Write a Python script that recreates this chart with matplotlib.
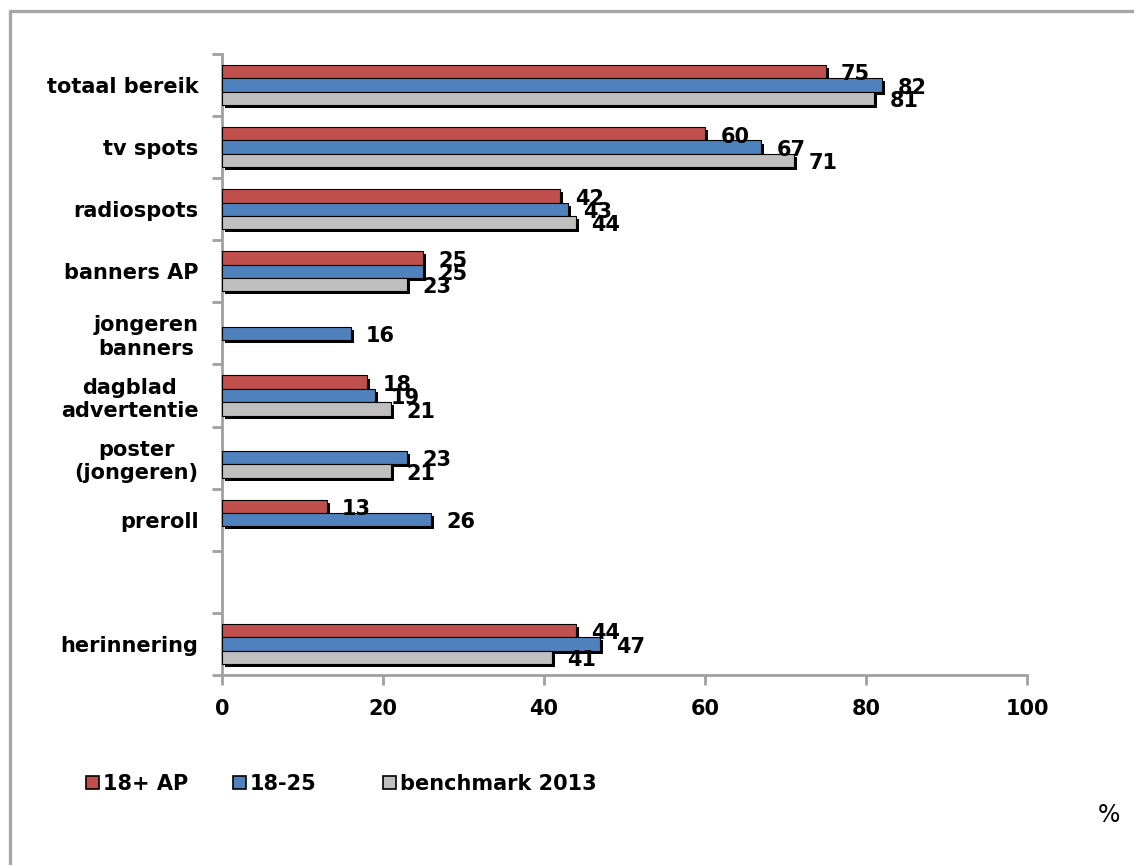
"""
Horizontal grouped bar chart: bereik / herinnering per mediumtype.
Output: out.png (1134x865 px)
"""
import numpy as np
import matplotlib
matplotlib.use("Agg")
import matplotlib.pyplot as plt
import matplotlib.patheffects as pe
from matplotlib.lines import Line2D
from matplotlib.patches import Patch

# ── data ──────────────────────────────────────────────────────────────────────
CATEGORIES = [
    "totaal bereik",
    "tv spots",
    "radiospots",
    "banners AP",
    "jongeren\nbanners",
    "dagblad\nadvertentie",
    "poster\n(jongeren)",
    "preroll",
    "",
    "herinnering",
]
SERIES = ["18+ AP", "18-25", "benchmark 2013"]
AP_18PLUS = [75, 60, 42, 25, np.nan, 18, np.nan, 13, np.nan, 44]
AGE_18_25 = [82, 67, 43, 25, 16, 19, 23, 26, np.nan, 47]
BENCH_2013 = [81, 71, 44, 23, np.nan, 21, 21, np.nan, np.nan, 41]
X_TICKS = [0, 20, 40, 60, 80, 100]

# ── palette ───────────────────────────────────────────────────────────────────
C_RED = "#C0504D"
C_BLUE = "#4F81BD"
C_GRAY = "#BFBFBF"
C_AXIS = "#A0A0A0"
C_BORDER = "#A6A6A6"

FS = 15
plt.rcParams["font.family"] = ["DejaVu Sans"]

fig = plt.figure(figsize=(11.34, 8.65), dpi=100, facecolor="white")
ax = fig.add_axes([0.1958, 0.2197, 0.7099, 0.7179])

y = np.arange(len(CATEGORIES))
BAR_H = 0.215
shadow = [pe.SimplePatchShadow(offset=(2.2, -2.2), shadow_rgbFace="black",
                               alpha=1.0), pe.Normal()]

series_vals = [AP_18PLUS, AGE_18_25, BENCH_2013]
colors = [C_RED, C_BLUE, C_GRAY]
for si, (vals, col) in enumerate(zip(series_vals, colors)):
    vals = np.asarray(vals, dtype=float)
    pos = y + (si - 1) * BAR_H
    mask = ~np.isnan(vals)
    bars = ax.barh(pos[mask], vals[mask], height=BAR_H, color=col,
                   edgecolor="black", linewidth=0.8, zorder=3)
    for b in bars:
        b.set_path_effects(shadow)
    for p, v in zip(pos[mask], vals[mask]):
        ax.annotate(f"{v:.0f}", xy=(v, p), xytext=(11, -2),
                    textcoords="offset points", ha="left", va="center",
                    fontsize=FS, fontweight="bold", color="black", zorder=5)

# ── axes ──────────────────────────────────────────────────────────────────────
ax.set_xlim(0, 100)
ax.set_ylim(len(CATEGORIES) - 0.5, -0.5)
ax.set_xticks(X_TICKS)
ax.set_xticklabels([str(t) for t in X_TICKS], fontsize=FS, fontweight="bold")
ax.set_yticks(y)
ax.set_yticklabels(CATEGORIES, fontsize=FS, fontweight="bold",
                   multialignment="center")
ax.set_yticks(np.arange(len(CATEGORIES) + 1) - 0.5, minor=True)

ax.tick_params(axis="y", which="major", length=0, pad=17)
ax.tick_params(axis="y", which="minor", length=7, width=2, color=C_AXIS,
               direction="out")
ax.tick_params(axis="x", which="major", length=7, width=2, color=C_AXIS,
               direction="out", pad=10)

for s in ("top", "right"):
    ax.spines[s].set_visible(False)
for s in ("left", "bottom"):
    ax.spines[s].set_color(C_AXIS)
    ax.spines[s].set_linewidth(2)

# ── legend (one entry per fixed slot, like the Excel original) ───────────────
LEG_X_PX = [86, 233, 383]
for c, l, xpx in zip(colors, SERIES, LEG_X_PX):
    h = Patch(facecolor=c, edgecolor="black", linewidth=1.2, label=l)
    fig.legend(handles=[h], loc="center left",
               bbox_to_anchor=(xpx / 1134, 0.094), frameon=False,
               borderpad=0, borderaxespad=0,
               prop={"size": FS, "weight": "bold"},
               handlelength=0.62, handleheight=0.62, handletextpad=0.2)

fig.text(1109 / 1134, 1 - 815 / 865, "%", fontsize=17, ha="center",
         va="center", color="black")

# ── outer frame (top and left only) ──────────────────────────────────────────
bx, by = 10 / 1134, 1 - 11 / 865
fig.add_artist(Line2D([bx, bx, 1.0], [0.0, by, by], color=C_BORDER,
                      linewidth=2.4, transform=fig.transFigure))

fig.savefig("out.png", dpi=100, facecolor="white")
